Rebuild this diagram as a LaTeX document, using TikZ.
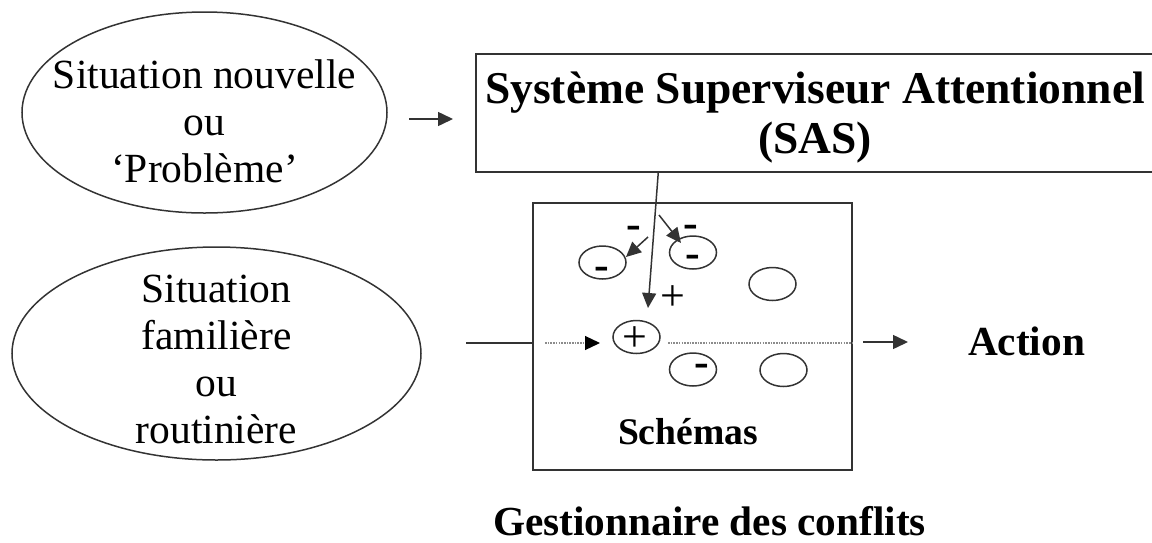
\documentclass[tikz,border=0pt]{standalone}
\usepackage{fontspec}
\setmainfont{Liberation Serif}
\usetikzlibrary{arrows.meta,positioning,calc,shapes.geometric}
\newcommand{\SasTextSize}{41.5}

\tikzset{
	trait/.style={line width=1.5pt, draw=black!80},
	fleche/.style={trait, -{Triangle[length=15pt,width=14pt]}},
	pointille/.style={line width=1.2pt, draw=black!45, dash pattern=on 1.6pt off 1.1pt},
	situation/.style={ellipse, trait, inner sep=0pt},
	schema/.style={ellipse, trait, minimum width=47pt, minimum height=33pt, inner sep=0pt},
	texte/.style={align=center, inner sep=0pt, font=\fontsize{\SasTextSize}{47}\selectfont},
	gras/.style={inner sep=0pt, font=\fontsize{41.3}{47}\selectfont\bfseries},
	signe/.style={inner sep=0pt, font=\fontsize{44}{44}\selectfont\bfseries},
	plus/.style={inner sep=0pt, font=\fontsize{44}{44}\selectfont},
}

\begin{document}
\begin{tikzpicture}[x=1pt, y=-1pt]
		\useasboundingbox (0,0) rectangle (1152,542);
		\node[situation, minimum width=365pt, minimum height=201pt] (sit1) at (204.5,112.5) {};
		\node[texte] (sit1txt) at (204.5,121) {Situation nouvelle\\ou\\‘Problème’};
		\node[situation, minimum width=409pt, minimum height=213pt] (sit2) at (216.5,353.5) {};
		\node[texte] (sit2txt) at (216.5,359) {Situation\\familière\\ou\\routinière};
		\node[trait, rectangle, minimum width=680pt, minimum height=118pt] (sas) at (816,113) {};
		\node[texte, font=\fontsize{45.5}{50}\selectfont\bfseries] (sastxt) at (815,117.5) {Système Superviseur Attentionnel\\(SAS)};
		\node[trait, rectangle, minimum width=319pt, minimum height=267pt] (sch) at (692.5,336.5) {};
		\node[gras, font=\fontsize{37.6}{40}\selectfont\bfseries, anchor=base] (schtxt) at (688,444) {Schémas};
		\node[gras, anchor=base] (action) at (1026.5,355) {Action};
		\node[gras, anchor=base] (gest) at (709.5,535) {Gestionnaire des conflits};
		\node[schema] (e1) at (602.5,262.5) {};
		\node[schema] (e2) at (693,252.5) {};
		\node[schema] (e3) at (772.5,284) {};
		\node[schema] (e4) at (636.5,337) {};
		\node[schema] (e5) at (693,369.5) {};
		\node[schema] (e6) at (783.5,370) {};
		\node[signe] (m1) at (601.5,273) {-};
		\node[signe] (m2) at (693,261.5) {-};
		\node[signe] (m5) at (701.5,370.5) {-};
		\node[signe] (m1h) at (634,232) {-};
		\node[signe] (m2h) at (691,231.5) {-};
		\node[plus] (p4) at (635,339) {+};
		\node[plus] (p4h) at (672.7,298.3) {+};
		\coordinate (a1) at (409,119);
		\coordinate (a2) at (453,119);
		\coordinate (sasbas) at ($(sas.south west)+(183,0)$);
		\coordinate (pointe) at (648,308);
		\coordinate (b1) at (648,237);
		\coordinate (b2) at (626,257);
		\coordinate (c1) at (659,215);
		\coordinate (c2) at (681,243);
		\coordinate (entree) at (466,343);
		\coordinate (d1) at (545,343);
		\coordinate (d2) at (600,343);
		\coordinate (d3) at (668,343);
		\coordinate (f1) at (863,342);
		\coordinate (f2) at (908,342);
		\draw[fleche] (a1) -- (a2);
		\draw[fleche] (sasbas) -- (pointe);
		\draw[fleche] (b1) -- (b2);
		\draw[fleche] (c1) -- (c2);
		\draw[trait] (entree) -- (sch.west |- entree);
		\draw[pointille, -{Triangle[length=15pt,width=14pt,black]}] (d1) -- (d2);
		\draw[pointille] (d3) -- (sch.east |- d3);
		\draw[fleche] (f1) -- (f2);
\end{tikzpicture}
\end{document}
